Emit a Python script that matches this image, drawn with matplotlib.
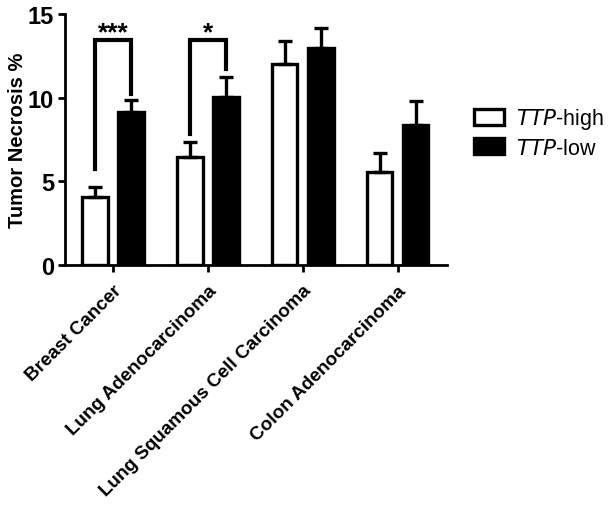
import numpy as np
import matplotlib
matplotlib.use("Agg")
import matplotlib.pyplot as plt

plt.rcParams["font.family"] = ["Liberation Sans", "DejaVu Sans"]

categories = ["Breast Cancer", "Lung Adenocarcinoma",
              "Lung Squamous Cell Carcinoma", "Colon Adenocarcinoma"]
high_mean = [4.05, 6.45, 12.05, 5.55]
high_err = [0.65, 0.9, 1.35, 1.15]
low_mean = [9.15, 10.05, 13.0, 8.35]
low_err = [0.7, 1.2, 1.15, 1.45]

# significance brackets: (group, left bottom, right bottom, top, label)
brackets = [(0, 5.75, 10.2, 13.45, "***"), (1, 7.85, 11.7, 13.45, "*")]

fig = plt.figure(figsize=(6.08, 5.06), dpi=100)
ax = fig.add_axes([0.107, 0.474, 0.628, 0.496])

x = np.arange(len(categories))
off = 0.19
w = 0.27
ekw = dict(elinewidth=2.4, capthick=2.4, ecolor="black")
ax.bar(x - off, high_mean, w, color="white", edgecolor="black", linewidth=2.4,
       yerr=[np.zeros(4), high_err], capsize=5, error_kw=ekw, zorder=3,
       label="$\\it{TTP}$-high")
ax.bar(x + off, low_mean, w, color="black", edgecolor="black", linewidth=2.4,
       yerr=[np.zeros(4), low_err], capsize=5, error_kw=ekw, zorder=3,
       label="$\\it{TTP}$-low")

for g, yl, yr, top, lab in brackets:
    ax.plot([g - off, g - off, g + off, g + off], [yl, top, top, yr],
            color="black", lw=3, solid_joinstyle="miter", clip_on=False)
    ax.text(g, top - 0.28, lab, ha="center", va="bottom", fontsize=19,
            fontweight="bold")

ax.set_xlim(-0.505, 3.52)
ax.set_ylim(0, 15)
ax.set_yticks([0, 5, 10, 15])
ax.set_xticks(x)
ax.set_xticklabels(categories, rotation=45, ha="right", rotation_mode="anchor",
                   fontsize=13.6, fontweight="bold")
ax.tick_params(axis="y", labelsize=17)
for lbl in ax.get_yticklabels():
    lbl.set_fontweight("bold")
ax.set_ylabel("Tumor Necrosis %", fontsize=14.5, fontweight="bold")
ax.yaxis.set_label_coords(-0.1, 0.5)

for s in ["top", "right"]:
    ax.spines[s].set_visible(False)
for s in ["left", "bottom"]:
    ax.spines[s].set_linewidth(2)
ax.tick_params(width=2, length=5, direction="out")
ax.tick_params(axis="x", pad=7)
ax.tick_params(axis="y", pad=3)

fig.legend(loc="upper left", bbox_to_anchor=(0.765, 0.805), frameon=False,
           fontsize=15.5, handlelength=1.4, handleheight=0.8, handletextpad=0.55,
           labelspacing=0.3, borderaxespad=0)

fig.savefig("out.png", dpi=100)
